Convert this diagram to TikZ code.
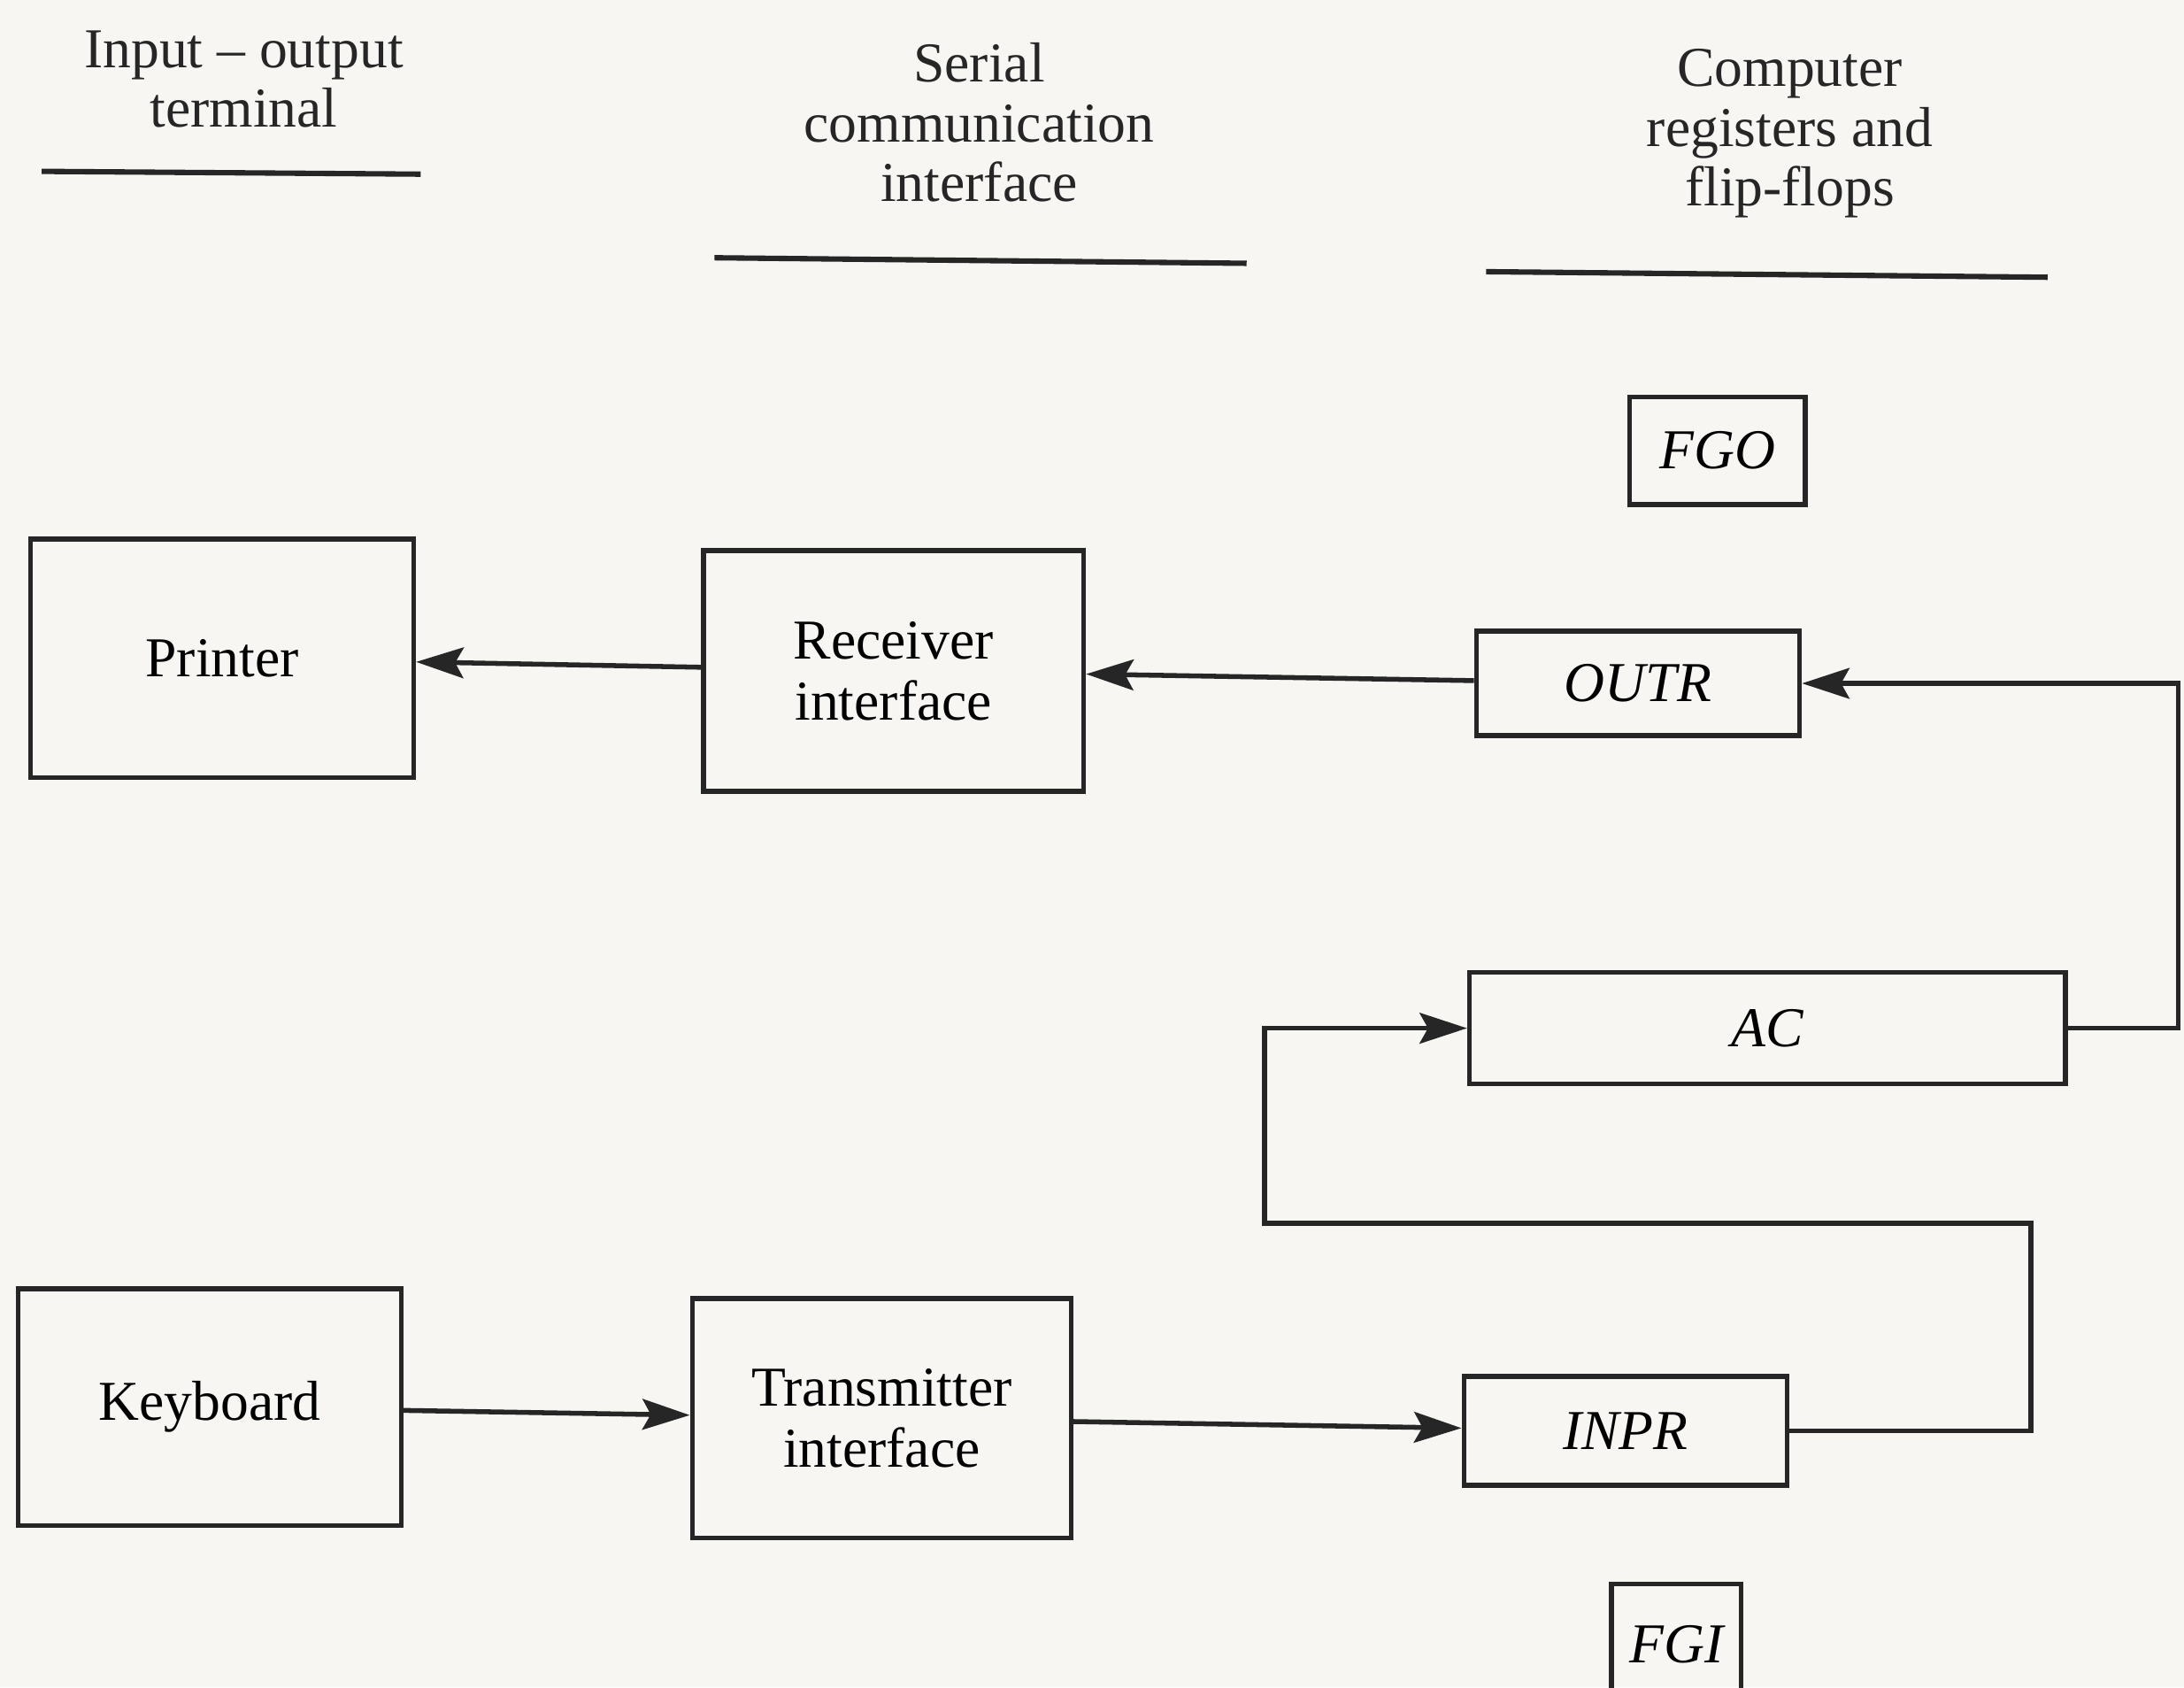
\documentclass[tikz,border=0pt]{standalone}
\usepackage{fontspec}
\setmainfont{Liberation Serif}
\usepackage{xcolor}
\usepackage{tikz}
\usetikzlibrary{positioning,calc,arrows.meta}
\definecolor{paper}{HTML}{F7F6F3}
\definecolor{ink}{HTML}{262626}

\begin{document}
\begin{tikzpicture}[
    devbox/.style={draw=ink,line width=1pt,align=center,inner sep=0pt,font=\fontsize{11.5}{12.5}\selectfont},
    regbox/.style={draw=ink,line width=1pt,align=center,inner sep=0pt,font=\fontsize{11.5}{12.5}\selectfont\itshape},
    heading/.style={align=center,font=\fontsize{11.5}{12.2}\selectfont,text=ink},
    rule/.style={draw=ink,line width=1.1pt},
    flowArrow/.style={draw=ink,line width=1pt,-{Stealth[length=3.4mm,width=2.2mm,inset=0.6mm]}},
    plainEdge/.style={draw=ink,line width=1pt}
]
\clip (0,0) rectangle (15.68,12.11);
\fill[paper] (0,0) rectangle (15.68,12.11);
% column headings
\node[heading] (hTerm) at (1.75,11.54) {Input -- output\\terminal};
\node[heading] (hSerial) at (7.03,11.23) {Serial\\communication\\interface};
\node[heading] (hRegs) at (12.85,11.15) {Computer\\registers and\\flip-flops};
\draw[rule] (0.30,10.88) -- (3.02,10.86);
\draw[rule] (5.13,10.26) -- (8.95,10.22);
\draw[rule] (10.67,10.16) -- (14.70,10.12);
% devices and interfaces
\node[devbox,minimum width=27.5mm,minimum height=17.1mm] (Printer) at (1.595,7.385) {Printer};
\node[devbox,minimum width=27.3mm,minimum height=17.3mm] (Receiver) at (6.415,7.295) {Receiver\\interface};
\node[devbox,minimum width=27.5mm,minimum height=17.0mm] (Keyboard) at (1.505,2.01) {Keyboard};
\node[devbox,minimum width=27.2mm,minimum height=17.2mm] (Transmitter) at (6.33,1.93) {Transmitter\\interface};
% registers and flags
\node[regbox,minimum width=12.6mm,minimum height=7.7mm] (FGO) at (12.33,8.875) {FGO};
\node[regbox,minimum width=23.2mm,minimum height=7.5mm] (OUTR) at (11.76,7.205) {OUTR};
\node[regbox,minimum width=42.8mm,minimum height=8.0mm] (AC) at (12.69,4.73) {AC};
\node[regbox,minimum width=23.2mm,minimum height=7.8mm] (INPR) at (11.67,1.84) {INPR};
\node[regbox,minimum width=9.3mm,minimum height=8.6mm] (FGI) at (12.035,0.31) {FGI};
% data paths
\coordinate (loopR) at (14.58,3.33);
\coordinate (loopL) at (9.08,3.33);
\draw[flowArrow] (Receiver) -- (Printer);
\draw[flowArrow] (OUTR) -- (Receiver);
\draw[flowArrow] (AC.east) -- ++(0.79,0) |- (OUTR.east);
\draw[flowArrow] (Keyboard) -- (Transmitter);
\draw[flowArrow] (Transmitter) -- (INPR);
\draw[flowArrow] (INPR.east) -| (loopR) -- (loopL) |- (AC.west);
\end{tikzpicture}
\end{document}
